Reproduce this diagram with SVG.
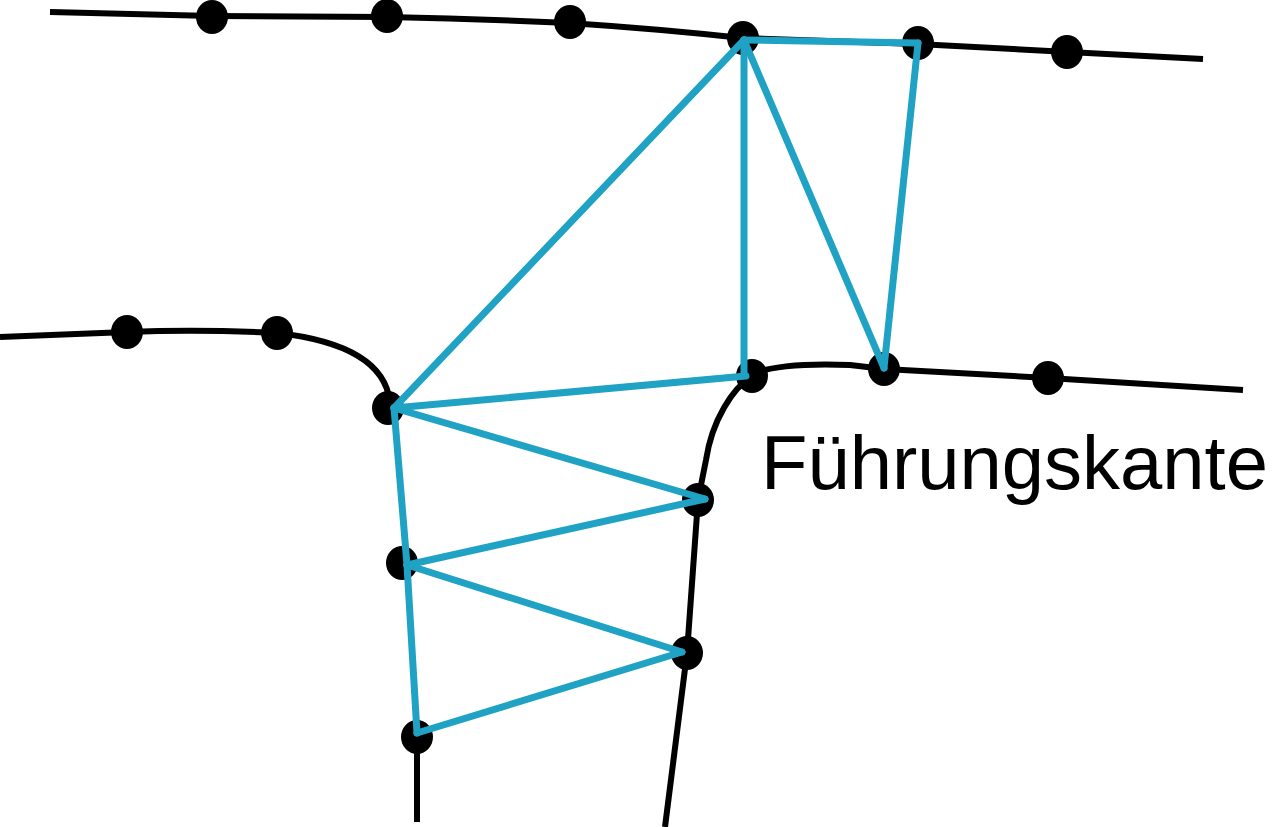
<svg xmlns="http://www.w3.org/2000/svg" width="1280" height="827" viewBox="0 0 1280 827">
<style>
.curve{fill:none;stroke:#000;stroke-width:6;stroke-linecap:butt;stroke-linejoin:round}
.dot{fill:#000}
.edge{stroke:#1fa2c4;stroke-width:7;stroke-linecap:round;fill:none}
.label{font-family:"Liberation Sans",Arial,sans-serif;font-size:76px;fill:#000}
</style>
<rect width="1280" height="827" fill="#fff"/>
<g id="curves">
<path class="curve" d="M50,12 L212,16 L387,17 Q480,19 569,23 Q660,29 742,38 L917,44 L1068,52 L1203,59"/>
<path class="curve" d="M0,337 L127,332 Q200,329 277,333 C340,340 385,360 390,402"/>
<path class="curve" d="M752,376 C762,367 800,363 850,365 L884,369 L1048,378 L1243,390"/>
<path class="curve" d="M752,376 C733,388 712,420 706,460 L698,500 L687,653 L665,827"/>
<path class="curve" d="M417,737 L417,822"/>
</g>
<g id="nodes">
<ellipse class="dot" cx="212" cy="17" rx="16" ry="17"/>
<ellipse class="dot" cx="387" cy="16" rx="16" ry="17"/>
<ellipse class="dot" cx="570" cy="22" rx="16" ry="17"/>
<ellipse class="dot" cx="743" cy="38" rx="16" ry="17"/>
<ellipse class="dot" cx="918" cy="43" rx="16" ry="17"/>
<ellipse class="dot" cx="1067" cy="52" rx="16" ry="17"/>
<ellipse class="dot" cx="127" cy="332" rx="16" ry="17"/>
<ellipse class="dot" cx="277" cy="333" rx="16" ry="17"/>
<ellipse class="dot" cx="388" cy="408" rx="16" ry="17"/>
<ellipse class="dot" cx="752" cy="376" rx="16" ry="17"/>
<ellipse class="dot" cx="884" cy="369" rx="16" ry="17"/>
<ellipse class="dot" cx="1048" cy="378" rx="16" ry="17"/>
<ellipse class="dot" cx="698" cy="500" rx="16" ry="17"/>
<ellipse class="dot" cx="402" cy="563" rx="16" ry="17"/>
<ellipse class="dot" cx="687" cy="653" rx="16" ry="17"/>
<ellipse class="dot" cx="417" cy="737" rx="16" ry="17"/>
</g>
<g id="connectors">
<line class="edge" x1="744" y1="40" x2="918" y2="43"/>
<line class="edge" x1="918" y1="43" x2="884" y2="368"/>
<line class="edge" x1="744" y1="40" x2="884" y2="368"/>
<line class="edge" x1="744" y1="40" x2="744" y2="375"/>
<line class="edge" x1="744" y1="40" x2="394" y2="408"/>
<line class="edge" x1="394" y1="408" x2="746" y2="376"/>
<line class="edge" x1="394" y1="408" x2="705" y2="499"/>
<line class="edge" x1="705" y1="499" x2="407" y2="565"/>
<line class="edge" x1="394" y1="408" x2="407" y2="565"/>
<line class="edge" x1="407" y1="565" x2="682" y2="652"/>
<line class="edge" x1="682" y1="652" x2="417" y2="733"/>
<line class="edge" x1="407" y1="565" x2="417" y2="733"/>
</g>
<text class="label" x="761" y="489">Führungskante</text>
</svg>
